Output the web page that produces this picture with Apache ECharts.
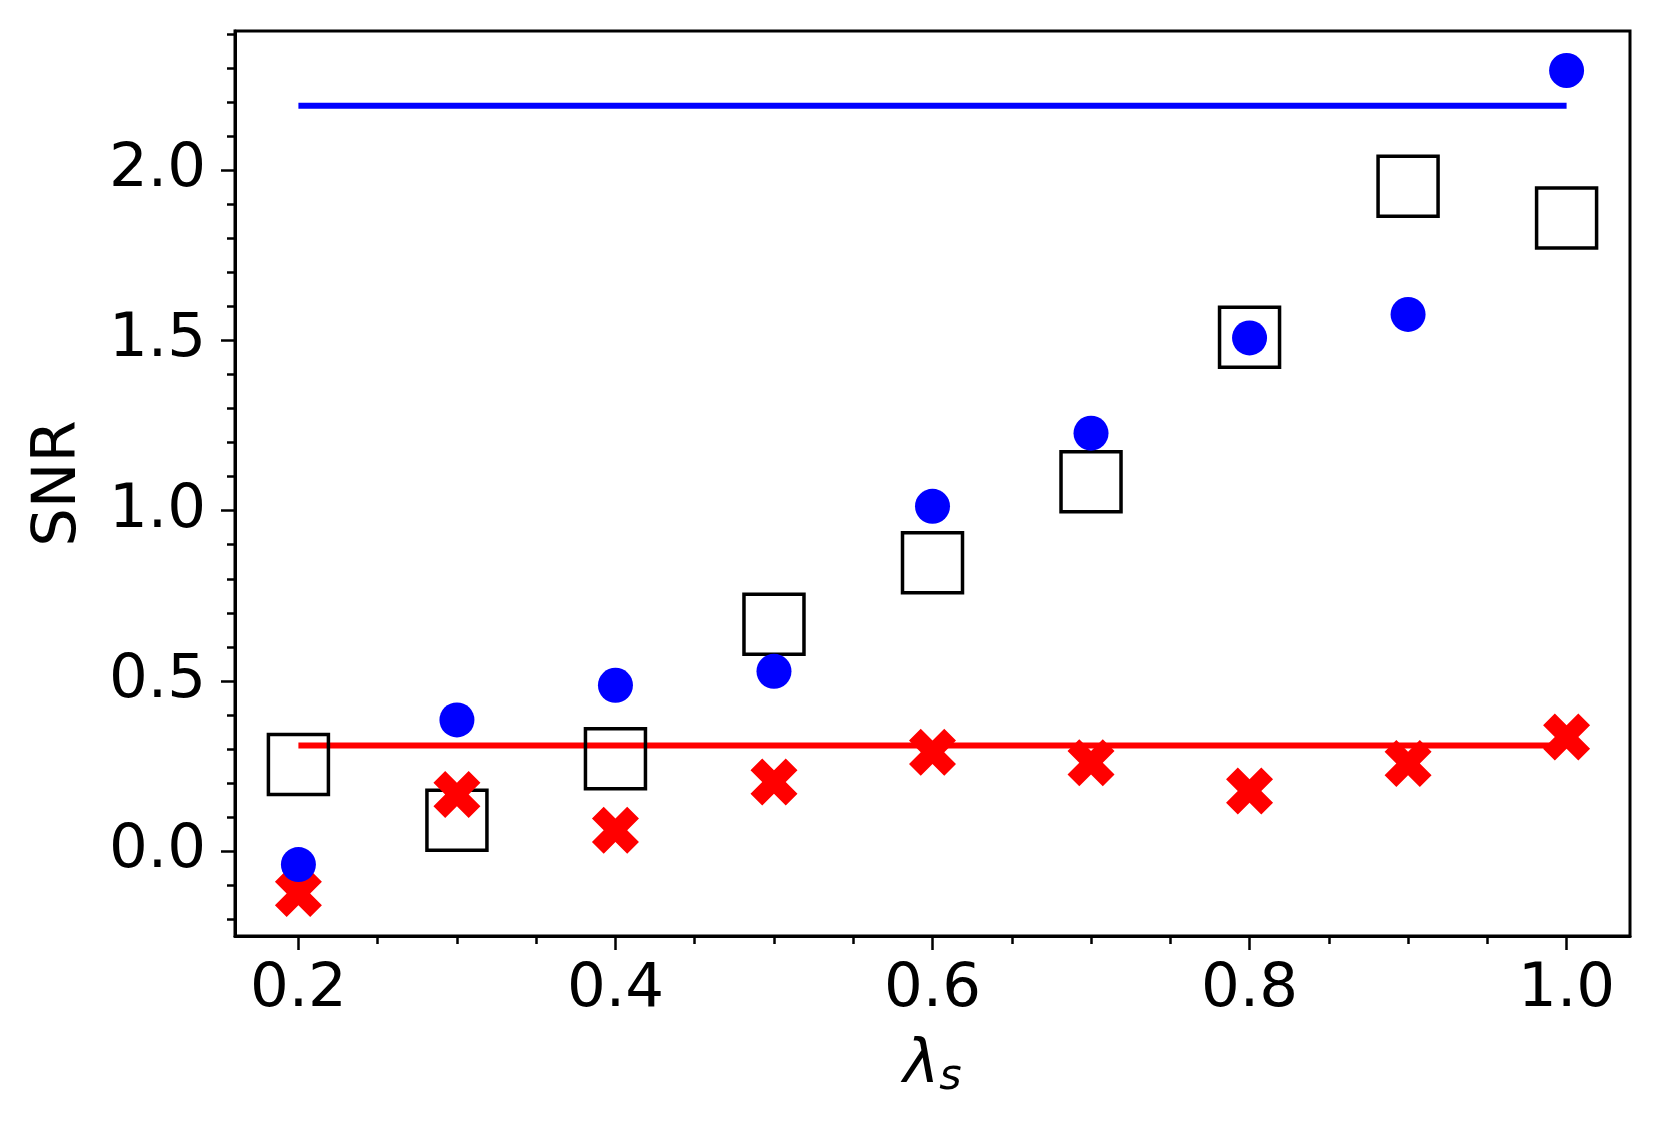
<!DOCTYPE html>
<html>
<head>
<meta charset="utf-8">
<style>
  html, body { margin: 0; padding: 0; background: #fff; }
  #main { width: 1660px; height: 1133px; }
</style>
<script src="https://cdn.jsdelivr.net/npm/echarts@6/dist/echarts.min.js"></script>
</head>
<body>
<div id="main"></div>
<script>
// lambda_s values (x) shared by all marker series
var lambdaS = [0.2, 0.3, 0.4, 0.5, 0.6, 0.7, 0.8, 0.9, 1.0];
var blueDots = [-0.04, 0.385, 0.487, 0.528, 1.013, 1.228, 1.508, 1.577, 2.294];
var blackSquares = [0.254, 0.09, 0.271, 0.666, 0.847, 1.085, 1.51, 1.954, 1.86];
var redCrosses = [-0.125, 0.166, 0.061, 0.203, 0.29, 0.259, 0.176, 0.257, 0.335];

// horizontal reference levels, drawn from first to last lambda
var lineEnds = [0.2, 1.0];
var blueLevel = 2.19;
var redLevel = 0.31;

// tick positions
var xMajorTicks = [0.2, 0.4, 0.6, 0.8, 1.0];
var xMinorTicks = [0.25, 0.3, 0.35, 0.45, 0.5, 0.55, 0.65, 0.7, 0.75, 0.85, 0.9, 0.95];
var yMajorTicks = [0.0, 0.5, 1.0, 1.5, 2.0];
var yMinorTicks = [-0.2, -0.1, 0.1, 0.2, 0.3, 0.4, 0.6, 0.7, 0.8, 0.9, 1.1, 1.2, 1.3, 1.4,
  1.6, 1.7, 1.8, 1.9, 2.1, 2.2, 2.3, 2.4];

var font = "DejaVu Sans";
var xPath = "path://M1,0 L2,1 L3,0 L4,1 L3,2 L4,3 L3,4 L2,3 L1,4 L0,3 L1,2 L0,1 Z";

function pairs(xs, ys) {
  return xs.map(function(x, i) { return [x, ys[i]]; });
}

var myChart = echarts.init(document.getElementById("main"));

var tickStyle = { color: "#000", width: 2.5 };

myChart.setOption({
  animation: false,
  backgroundColor: "#fff",
  grid: {
    left: 235,
    right: 30,
    top: 31,
    bottom: 197,
    show: true,
    borderColor: "#000",
    borderWidth: 3,
    backgroundColor: "transparent",
    outerBoundsMode: "none"
  },
  xAxis: [
    {
      type: "value",
      min: 0.16,
      max: 1.04,
      position: "bottom",
      axisLine: { show: true, onZero: false, lineStyle: { color: "#000", width: 3 } },
      axisTick: { show: true, customValues: xMajorTicks, length: 14, lineStyle: tickStyle },
      axisLabel: {
        customValues: xMajorTicks,
        formatter: function(v) { return v.toFixed(1); },
        fontFamily: font,
        fontSize: 61,
        color: "#000",
        margin: 24
      },
      splitLine: { show: false },
      name: "{a|λ}{b|s}",
      nameLocation: "middle",
      nameGap: 95,
      nameTextStyle: {
        rich: {
          a: { fontFamily: font, fontStyle: "italic", fontSize: 61, color: "#000", lineHeight: 70 },
          b: { fontFamily: font, fontStyle: "italic", fontSize: 43, color: "#000",
               lineHeight: 46, padding: [24, 0, 0, 0] }
        }
      }
    },
    {
      type: "value",
      min: 0.16,
      max: 1.04,
      position: "bottom",
      axisLine: { show: false, onZero: false },
      axisTick: { show: true, customValues: xMinorTicks, length: 8, lineStyle: tickStyle },
      axisLabel: { show: false },
      splitLine: { show: false }
    }
  ],
  yAxis: [
    {
      type: "value",
      min: -0.25,
      max: 2.41,
      position: "left",
      axisLine: { show: true, onZero: false, lineStyle: { color: "#000", width: 3 } },
      axisTick: { show: true, customValues: yMajorTicks, length: 14, lineStyle: tickStyle },
      axisLabel: {
        customValues: yMajorTicks,
        formatter: function(v) { return v.toFixed(1); },
        fontFamily: font,
        fontSize: 61,
        color: "#000",
        margin: 29
      },
      splitLine: { show: false },
      name: "SNR",
      nameLocation: "middle",
      nameRotate: 90,
      nameGap: 145,
      nameTextStyle: { fontFamily: font, fontSize: 61, color: "#000" }
    },
    {
      type: "value",
      min: -0.25,
      max: 2.41,
      position: "left",
      axisLine: { show: false, onZero: false },
      axisTick: { show: true, customValues: yMinorTicks, length: 8, lineStyle: tickStyle },
      axisLabel: { show: false },
      splitLine: { show: false }
    }
  ],
  series: [
    {
      name: "blue level",
      type: "line",
      data: pairs(lineEnds, [blueLevel, blueLevel]),
      showSymbol: false,
      lineStyle: { color: "#0000ff", width: 6 },
      z: 2
    },
    {
      name: "red level",
      type: "line",
      data: pairs(lineEnds, [redLevel, redLevel]),
      showSymbol: false,
      lineStyle: { color: "#ff0000", width: 6 },
      z: 2
    },
    {
      name: "squares",
      type: "scatter",
      data: pairs(lambdaS, blackSquares),
      symbol: "rect",
      symbolSize: 60,
      itemStyle: { color: "rgba(0,0,0,0)", borderColor: "#000", borderWidth: 3.5, opacity: 1 },
      z: 3
    },
    {
      name: "crosses",
      type: "scatter",
      data: pairs(lambdaS, redCrosses),
      symbol: xPath,
      symbolSize: 47,
      itemStyle: { color: "#ff0000", opacity: 1 },
      z: 4
    },
    {
      name: "dots",
      type: "scatter",
      data: pairs(lambdaS, blueDots),
      symbol: "circle",
      symbolSize: 35,
      itemStyle: { color: "#0000ff", opacity: 1 },
      z: 5
    }
  ]
});

window.addEventListener("resize", function() {
  myChart.resize();
});
</script>
</body>
</html>
